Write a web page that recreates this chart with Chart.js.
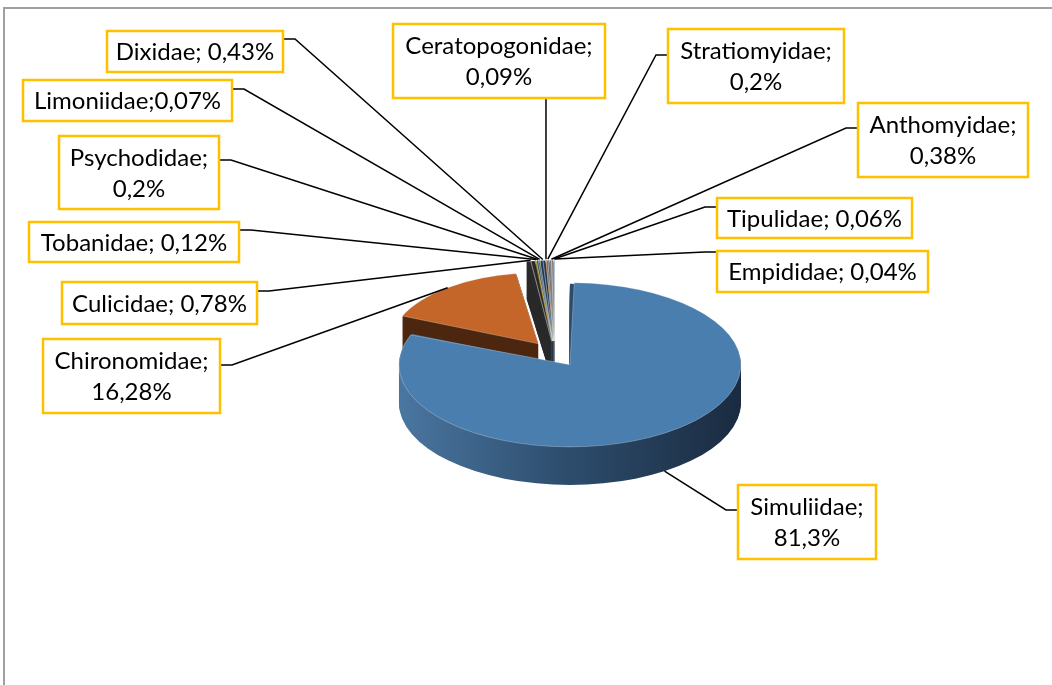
<!DOCTYPE html>
<html>
<head>
<meta charset="utf-8">
<script src="https://cdn.jsdelivr.net/npm/chart.js@4/dist/chart.umd.min.js"></script>
<style>
  html, body { margin: 0; padding: 0; background: #fff; overflow: hidden; }
  #wrap { position: relative; width: 1052px; height: 685px; overflow: hidden; }
  #frame { position: absolute; left: 3px; top: 7px; width: 1200px; height: 800px; border: 2px solid #a0a0a0; box-sizing: border-box; }
  #chart { position: absolute; left: 0; top: 0; }
</style>
</head>
<body>
<div id="wrap">
  <div id="frame"></div>
  <canvas id="chart" width="1052" height="685"></canvas>
</div>
<script>
const categories = ['Simuliidae', 'Chironomidae', 'Culicidae', 'Tobanidae', 'Psychodidae', 'Limoniidae',
    'Dixidae', 'Ceratopogonidae', 'Stratiomyidae', 'Anthomyidae', 'Tipulidae', 'Empididae'];
const shares = [81.3, 16.28, 0.78, 0.12, 0.2, 0.07, 0.43, 0.09, 0.2, 0.38, 0.06, 0.04];

const topColors = ['#4a7eae', '#c4652a', '#3d3d3d', '#d9a300', '#3f66a6', '#5e8e3e',
    '#27507d', '#e0823d', '#8a8a8a', '#b4b4b4', '#cfcfcf', '#4472c4'];
const sideColors = ['#2d4c6c', '#4d2710', '#2a2a2a', '#8a6a00', '#2a4674', '#3e5e28',
    '#1b3858', '#8e4f1e', '#5c5c5c', '#808080', '#9a9a9a', '#2e4f8a'];

// callout boxes (placed by hand in the original), one per category
const labelBoxes = [
    { x: 738, y: 485, w: 138, h: 74, sep: '\n', side: 'left', dy: 25 },
    { x: 43, y: 339, w: 177, h: 74, sep: '\n', side: 'right', dy: 26 },
    { x: 62, y: 282, w: 195, h: 42, sep: ' ', side: 'right', dy: 9 },
    { x: 29, y: 222, w: 210, h: 40, sep: ' ', side: 'right', dy: 8 },
    { x: 59, y: 136, w: 160, h: 73, sep: '\n', side: 'right', dy: 24 },
    { x: 23, y: 80, w: 209, h: 41, sep: '', side: 'right', dy: 9 },
    { x: 107, y: 31, w: 176, h: 41, sep: ' ', side: 'right', dy: 8 },
    { x: 393, y: 24, w: 212, h: 74, sep: '\n', side: 'bottom' },
    { x: 668, y: 29, w: 176, h: 74, sep: '\n', side: 'left', dy: 26 },
    { x: 858, y: 103, w: 170, h: 74, sep: '\n', side: 'left', dy: 25 },
    { x: 717, y: 198, w: 195, h: 40, sep: ' ', side: 'left', dy: 9 },
    { x: 717, y: 251, w: 211, h: 41, sep: ' ', side: 'left', dy: 1 }
];

const SQUASH = 0.48;   // tilt of the pie
const DEPTH = 38;      // thickness of the pie
const OFFSET = 108;    // chart.js divides arc offset by 4

const squash = (ctx, cx, cy) => {
    ctx.translate(cx, cy);
    ctx.scale(1, SQUASH);
    ctx.translate(-cx, -cy);
};

// same geometry the ArcElement uses when it draws an offset slice
const sliceGeom = (arc) => {
    const p = arc.getProps(['x', 'y', 'startAngle', 'endAngle', 'outerRadius', 'circumference'], true);
    const off = (arc.options.offset || 0) / 4;
    const mid = (p.startAngle + p.endAngle) / 2;
    const r = p.outerRadius + off * (1 - Math.sin(Math.min(Math.PI, p.circumference)));
    return {
        vx: p.x + Math.cos(mid) * off,
        vy: p.y + Math.sin(mid) * off,
        r, mid, start: p.startAngle, end: p.endAngle
    };
};

const drawLabels = (chart) => {
    const ctx = chart.ctx;
    const arcs = chart.getDatasetMeta(0).data;
    const cy = arcs[0].y;

    ctx.save();
    arcs.forEach((arc, i) => {
        const g = sliceGeom(arc);
        const b = labelBoxes[i];
        const px = g.vx + Math.cos(g.mid) * g.r;
        let py = cy + (g.vy + Math.sin(g.mid) * g.r - cy) * SQUASH;
        if (Math.sin(g.mid) > 0.3) py += DEPTH;

        ctx.beginPath();
        if (b.side === 'bottom') {
            ctx.moveTo(px, b.y + b.h);
            ctx.lineTo(px, py);
        } else {
            const ex = b.side === 'left' ? b.x : b.x + b.w;
            const stub = b.side === 'left' ? ex - 12 : ex + 12;
            ctx.moveTo(ex, b.y + b.dy);
            ctx.lineTo(stub, b.y + b.dy);
            ctx.lineTo(px, py);
        }
        ctx.strokeStyle = '#000';
        ctx.lineWidth = 1.5;
        ctx.stroke();
    });

    ctx.font = '24px Lato';
    ctx.textAlign = 'center';
    ctx.textBaseline = 'middle';
    categories.forEach((name, i) => {
        const b = labelBoxes[i];
        ctx.fillStyle = '#fff';
        ctx.fillRect(b.x, b.y, b.w, b.h);
        ctx.strokeStyle = '#ffc000';
        ctx.lineWidth = 2.5;
        ctx.strokeRect(b.x, b.y, b.w, b.h);

        const text = name + ';' + b.sep + String(shares[i]).replace('.', ',') + '%';
        const lines = text.split('\n');
        const lh = 31;
        const top = b.y + b.h / 2 - (lines.length - 1) * lh / 2;
        ctx.fillStyle = '#000';
        lines.forEach((ln, k) => ctx.fillText(ln, b.x + b.w / 2, top + k * lh + 1));
    });
    ctx.restore();
};

const pie3d = {
    id: 'pie3d',
    beforeDatasetsDraw(chart) {
        const ctx = chart.ctx;
        const arcs = chart.getDatasetMeta(0).data;
        const cx = arcs[0].x, cy = arcs[0].y;
        const r = arcs[0].outerRadius + OFFSET / 4;

        const grad = ctx.createLinearGradient(cx - r + 15, 0, cx + r + 15, 0);
        grad.addColorStop(0, '#4a76a0');
        grad.addColorStop(0.5, '#2d4c6c');
        grad.addColorStop(1, '#1a2b40');

        // walls: stack the slice shapes downwards, tops go on afterwards
        for (let d = DEPTH; d >= 1; d--) {
            arcs.forEach((arc, i) => {
                const g = sliceGeom(arc);
                ctx.save();
                ctx.translate(0, d);
                squash(ctx, cx, cy);
                ctx.beginPath();
                ctx.moveTo(g.vx, g.vy);
                ctx.arc(g.vx, g.vy, g.r, g.start, g.end);
                ctx.closePath();
                ctx.fillStyle = i === 0 ? grad : sideColors[i];
                ctx.fill();
                ctx.restore();
            });
        }

        ctx.save();
        squash(ctx, cx, cy);
    },
    afterDatasetsDraw(chart) {
        chart.ctx.restore();
        drawLabels(chart);
    }
};

new Chart(document.getElementById('chart'), {
    type: 'pie',
    data: {
        labels: categories,
        datasets: [{
            data: shares,
            backgroundColor: topColors,
            borderColor: 'rgba(255,255,255,0.35)',
            borderWidth: 1,
            offset: OFFSET,
            clip: false
        }]
    },
    options: {
        responsive: false,
        animation: false,
        events: [],
        radius: 144,
        layout: { padding: { left: 200, right: 142, top: 150, bottom: 127 } },
        plugins: {
            legend: { display: false },
            tooltip: { enabled: false }
        }
    },
    plugins: [pie3d]
});
</script>
</body>
</html>
